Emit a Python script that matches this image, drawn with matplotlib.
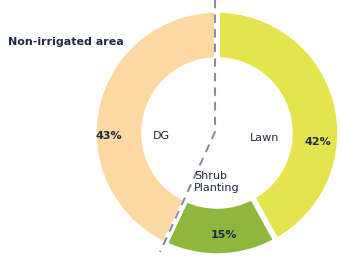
import matplotlib
matplotlib.use("Agg")
import matplotlib.pyplot as plt

# landscape split, share of total area
labels = ['Lawn', 'Shrub\nPlanting', 'DG']
shares = [42, 15, 43]
colors = ['#e4e44c', '#8db83d', '#fbd9a1']
navy = '#1f2a44'

fig = plt.figure(figsize=(3.42, 2.57), dpi=100)
ax = fig.add_axes([0, 0, 1, 1])
ax.set_xlim(0, 342)
ax.set_ylim(0, 257)
ax.axis('off')

# donut, lawn starts at the top and runs clockwise
ax.pie(shares, colors=colors, startangle=90, counterclock=False,
       center=(217, 124), radius=123,
       wedgeprops=dict(width=50, edgecolor='white', linewidth=4))
ax.set_xlim(0, 342)
ax.set_ylim(0, 257)
ax.set_aspect('equal')

# split between non-irrigated and irrigated area
ax.plot([215, 215, 160], [257, 125, 5], color='#8a8f9f', lw=1.5,
        linestyle=(0, (4, 3)))

fs = 8
ax.text(8, 215, 'Non-irrigated area', fontsize=fs, color=navy,
        fontweight='semibold', va='center')
ax.text(109, 121, f'{shares[2]}%', fontsize=fs, color=navy,
        fontweight='bold', ha='center', va='center')
ax.text(161, 121, labels[2], fontsize=fs, color=navy, ha='center', va='center')
ax.text(265, 119, labels[0], fontsize=fs, color=navy, ha='center', va='center')
ax.text(318, 115, f'{shares[0]}%', fontsize=fs, color=navy,
        fontweight='bold', ha='center', va='center')
ax.text(194, 75, labels[1], fontsize=fs, color=navy, ha='left', va='center',
        linespacing=1.3)
ax.text(224, 22, f'{shares[1]}%', fontsize=fs, color=navy,
        fontweight='bold', ha='center', va='center')

fig.savefig('out.png', dpi=100)
